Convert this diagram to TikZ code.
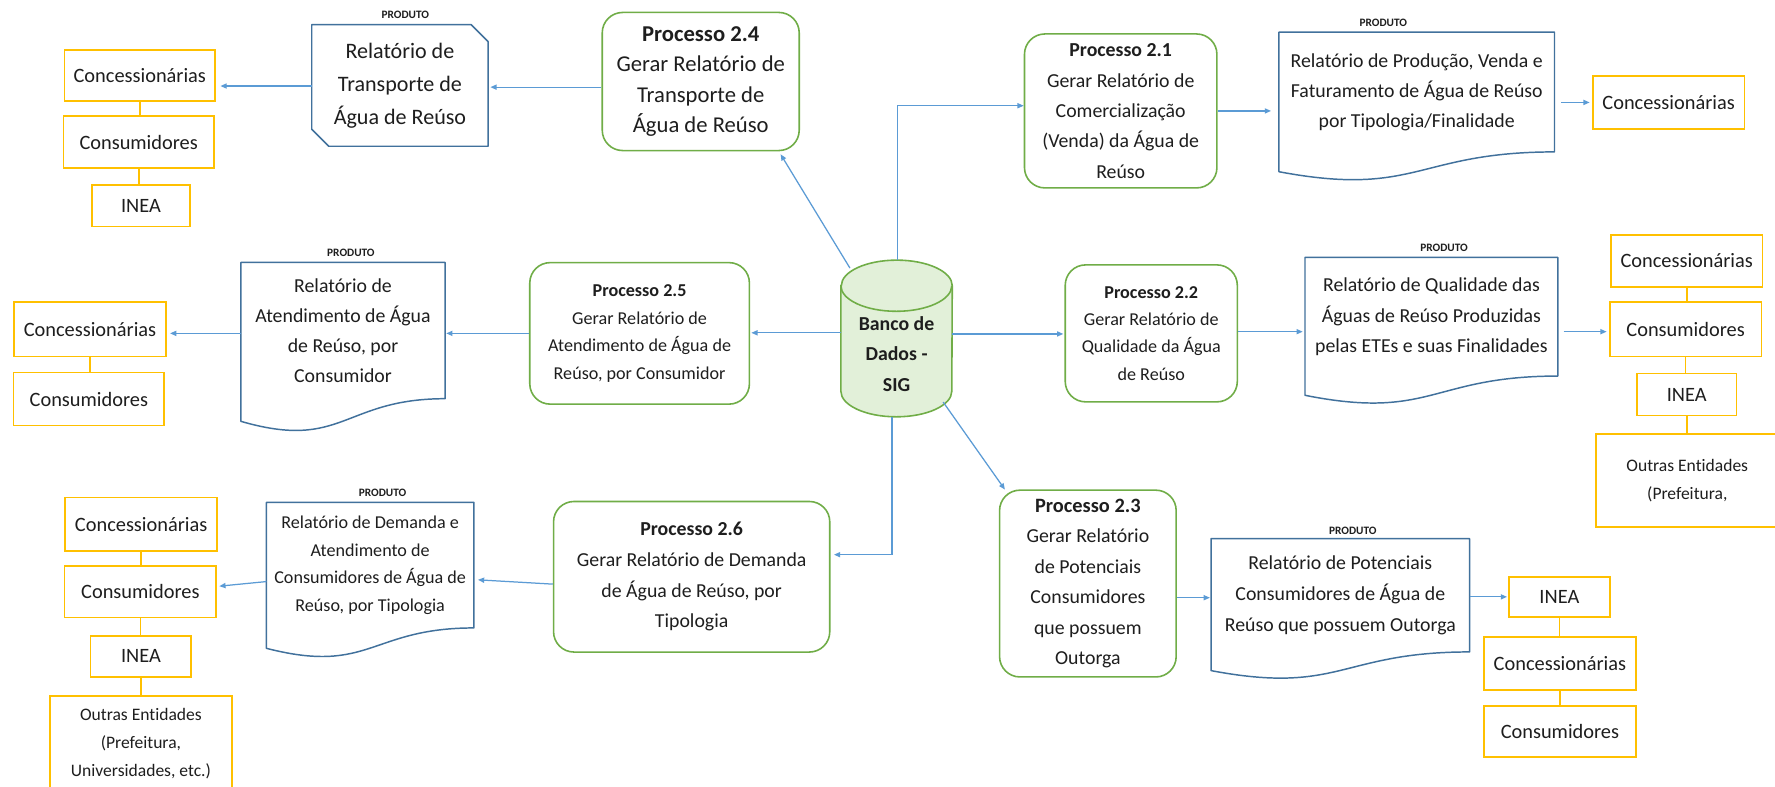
\documentclass[tikz,border=0pt]{standalone}
\usepackage{fontspec}
\setmainfont{Carlito}[Ligatures=NoCommon]
\usetikzlibrary{arrows.meta,calc}

\definecolor{procgreen}{HTML}{70AD47}
\definecolor{dbfill}{HTML}{E2F0D9}
\definecolor{docblue}{HTML}{41719C}
\definecolor{arrowblue}{HTML}{5B9BD5}
\definecolor{entyellow}{HTML}{FFC000}
\definecolor{ink}{HTML}{1E1E1E}

\newcommand\fsz[2]{\fontsize{#1}{#2}\selectfont}

% document symbol: wavy bottom edge, #1 node name, #2 drop of the left end
\newcommand\docoutline[2]{%
  \draw[docline] (#1.north west) -- (#1.north east) -- (#1.south east)
    .. controls (#1.south) and ([yshift=-2.31*#2pt]#1.south) ..
    ([yshift=-#2pt]#1.south west) -- cycle;}

\tikzset{
  every node/.style={text=ink},
  procbox/.style={draw=procgreen, line width=1.4pt, rounded corners=18pt,
    fill=white, inner sep=0pt, align=center},
  docnode/.style={inner sep=0pt, align=center},
  docline/.style={draw=docblue, line width=1.3pt, line join=round},
  entbox/.style={draw=entyellow, line width=1.5pt, fill=white, inner sep=0pt,
    align=center, font=\fsz{18}{22}},
  entlink/.style={draw=entyellow, line width=1.5pt},
  flow/.style={draw=arrowblue, line width=1.1pt,
    -{Triangle[length=5.5pt,width=4.5pt]}},
  prodtag/.style={font=\fsz{10}{12}\bfseries, inner sep=0pt},
}

\begin{document}
\begin{tikzpicture}[x=1pt, y=-1pt]
\useasboundingbox (0,0) rectangle (1568,695);
\fill[white] (0,0) rectangle (1568,695);

% ---------- processes ----------
\node[procbox, minimum width=174pt, minimum height=122pt, font=\fsz{20}{27}] (p24) at (619,72)
  {{\fsz{20}{27}\bfseries Processo 2.4}\\Gerar Relatório de\\Transporte de\\Água de Reúso};
\node[procbox, minimum width=170pt, minimum height=136pt, font=\fsz{17.5}{26.8}] (p21) at (990,98)
  {{\bfseries Processo 2.1}\\Gerar Relatório de\\Comercialização\\(Venda) da Água de\\Reúso};
\node[procbox, minimum width=194pt, minimum height=125pt, font=\fsz{16}{24.3}] (p25) at (565,294.5)
  {{\bfseries Processo 2.5}\\Gerar Relatório de\\Atendimento de Água de\\Reúso, por Consumidor};
\node[procbox, minimum width=152pt, minimum height=121pt, font=\fsz{16}{24}] (p22) at (1017,294.5)
  {{\bfseries Processo 2.2}\\Gerar Relatório de\\Qualidade da Água\\de Reúso};
\node[procbox, minimum width=244pt, minimum height=133pt, font=\fsz{17.5}{27}] (p26) at (611,509.5)
  {{\bfseries Processo 2.6}\\Gerar Relatório de Demanda\\de Água de Reúso, por\\Tipologia};
\node[procbox, minimum width=156pt, minimum height=165pt, font=\fsz{17.5}{27}] (p23) at (961,515.5)
  {{\fsz{18}{27}\bfseries Processo 2.3}\\Gerar Relatório\\de Potenciais\\Consumidores\\que possuem\\Outorga};

% ---------- database cylinder ----------
\node[minimum width=98pt, minimum height=138pt, inner sep=0pt] (db) at (792,299) {};
\path[fill=dbfill, draw=procgreen, line width=1.4pt]
  ([yshift=-22.6pt]db.north west) -- ([yshift=22.6pt]db.south west)
  arc[start angle=180, end angle=360, x radius=49pt, y radius=22.6pt]
  -- ([yshift=-22.6pt]db.north east)
  arc[start angle=0, end angle=180, x radius=49pt, y radius=22.6pt] -- cycle;
\draw[procgreen, line width=1.4pt] ([yshift=-22.6pt]db.north west)
  arc[start angle=180, end angle=360, x radius=49pt, y radius=22.6pt];
\node[font=\fsz{17.5}{27}\bfseries, align=center, inner sep=0pt] (dbtext) at (792,312.5)
  {Banco de\\Dados -\\SIG};

% ---------- products ----------
\node[docnode, minimum width=155.4pt, minimum height=107pt, font=\fsz{19.5}{29}] (pr4) at (353.3,75.5)
  {Relatório de\\Transporte de\\Água de Reúso};
\draw[docline] (pr4.north west) -- ([xshift=-15pt]pr4.north east) -- ([yshift=-15pt]pr4.north east)
  -- (pr4.south east) -- ([xshift=15pt]pr4.south west) -- ([yshift=15pt]pr4.south west) -- cycle;

\node[docnode, minimum width=243pt, minimum height=105.4pt, font=\fsz{17.5}{26.5}] (pr1) at (1251.5,81.3)
  {Relatório de Produção, Venda e\\Faturamento de Água de Reúso\\por Tipologia/Finalidade};
\docoutline{pr1}{17.5}

\node[docnode, minimum width=223pt, minimum height=104.4pt, font=\fsz{17.5}{27}] (pr2) at (1264.5,279.8)
  {Relatório de Qualidade das\\Águas de Reúso Produzidas\\pelas ETEs e suas Finalidades};
\docoutline{pr2}{17}

\node[docnode, minimum width=228pt, minimum height=99.7pt, font=\fsz{17.5}{27}] (pr3) at (1184,525.85)
  {Relatório de Potenciais\\Consumidores de Água de\\Reúso que possuem Outorga};
\docoutline{pr3}{16.5}

\node[docnode, minimum width=180pt, minimum height=120pt, font=\fsz{17.5}{26.5}] (pr5) at (303,292)
  {Relatório de\\Atendimento de Água\\de Reúso, por\\Consumidor};
\docoutline{pr5}{20}

\node[docnode, minimum width=183pt, minimum height=110.5pt, font=\fsz{16}{24.5}] (pr6) at (327,499.25)
  {Relatório de Demanda e\\Atendimento de\\Consumidores de Água de\\Reúso, por Tipologia};
\docoutline{pr6}{18}

\node[prodtag] (tag4) at (358,13) {PRODUTO};
\node[prodtag] (tag1) at (1222,20.6) {PRODUTO};
\node[prodtag] (tag5) at (310,223) {PRODUTO};
\node[prodtag] (tag2) at (1275.6,219) {PRODUTO};
\node[prodtag] (tag6) at (338,435.6) {PRODUTO};
\node[prodtag] (tag3) at (1195,469) {PRODUTO};

% ---------- recipients ----------
\node[entbox, minimum width=133pt, minimum height=45pt] (tlconc) at (123.5,66.5) {Concessionárias};
\node[entbox, minimum width=133pt, minimum height=46pt] (tlcons) at (122.5,125.6) {Consumidores};
\node[entbox, minimum width=87pt, minimum height=36.6pt] (tlinea) at (124.5,181.7) {INEA};

\node[entbox, minimum width=134pt, minimum height=48pt] (mlconc) at (79.5,291) {Concessionárias};
\node[entbox, minimum width=133pt, minimum height=47pt] (mlcons) at (78.5,352.5) {Consumidores};

\node[entbox, minimum width=134.5pt, minimum height=47pt] (blconc) at (124.7,463) {Concessionárias};
\node[entbox, minimum width=134pt, minimum height=45.6pt] (blcons) at (124,522.8) {Consumidores};
\node[entbox, minimum width=89pt, minimum height=36pt] (blinea) at (124.5,579.8) {INEA};
\node[entbox, minimum width=161pt, minimum height=84pt, font=\fsz{15.5}{25}] (blout) at (124.5,656.8)
  {Outras Entidades\\(Prefeitura,\\Universidades, etc.)};

\node[entbox, minimum width=134pt, minimum height=47pt] (trconc) at (1474,90.5) {Concessionárias};

\node[entbox, minimum width=134pt, minimum height=46pt] (rmconc) at (1490,230.6) {Concessionárias};
\node[entbox, minimum width=134pt, minimum height=48pt] (rmcons) at (1489,291) {Consumidores};
\node[entbox, minimum width=88pt, minimum height=37pt] (rminea) at (1490,348.5) {INEA};
\node[entbox, minimum width=161.8pt, minimum height=82pt, font=\fsz{15.5}{25}] (rmout) at (1490.5,424.4)
  {Outras Entidades\\(Prefeitura,};

\node[entbox, minimum width=89pt, minimum height=35.5pt] (brinea) at (1377.5,527.25) {INEA};
\node[entbox, minimum width=134pt, minimum height=47pt] (brconc) at (1378,586) {Concessionárias};
\node[entbox, minimum width=134pt, minimum height=45.4pt] (brcons) at (1378,646.3) {Consumidores};

% recipient chains
\draw[entlink] (tlconc.south) -- (tlconc.south |- tlcons.north);
\draw[entlink] (tlcons.south) -- (tlcons.south |- tlinea.north);
\draw[entlink] (mlconc.south) -- (mlconc.south |- mlcons.north);
\draw[entlink] (blconc.south) -- (blconc.south |- blcons.north);
\draw[entlink] (blcons.south) -- (blcons.south |- blinea.north);
\draw[entlink] (blinea.south) -- (blinea.south |- blout.north);
\draw[entlink] (rmconc.south) -- (rmconc.south |- rmcons.north);
\draw[entlink] (rmcons.south) -- (rmcons.south |- rminea.north);
\draw[entlink] (rminea.south) -- (rminea.south |- rmout.north);
\draw[entlink] (brinea.south) -- (brinea.south |- brconc.north);
\draw[entlink] (brconc.south) -- (brconc.south |- brcons.north);

% ---------- flows ----------
\draw[flow, shorten >=2pt] ([yshift=-5pt]p24.west) -- ([yshift=-5pt]p24.west -| pr4.east);
\draw[flow, shorten >=4pt] ([yshift=-0.5pt]pr4.west) -- ([yshift=-0.5pt]pr4.west -| tlconc.east);
\draw[flow, shorten >=3pt] ([xshift=8pt,yshift=-7pt]db.north west) -- ([xshift=69pt]p24.south);
\draw[flow] ([xshift=1pt]db.north) |- ([yshift=4.6pt]p21.west);
\draw[flow, shorten >=7pt] (p21.east) -- (p21.east -| pr1.west);
\draw[flow, shorten <=6pt, shorten >=2pt] (trconc.west -| pr1.east) -- (trconc.west);
\draw[flow, shorten >=1pt] ([yshift=5pt]db.west) -- ([yshift=5pt]db.west -| p25.east);
\draw[flow, shorten >=1pt] (p25.west) -- (p25.west -| pr5.east);
\draw[flow, shorten >=3pt] (p25.west -| pr5.west) -- (p25.west -| mlconc.east);
\draw[flow, shorten >=1pt] ([yshift=4pt]db.east) -- ([yshift=4pt]db.east -| p22.west);
\draw[flow, shorten >=2pt] ([yshift=1.5pt]p22.east) -- ([yshift=1.5pt]p22.east -| pr2.west);
\draw[flow, shorten <=5pt, shorten >=2pt] ([yshift=-2pt]rmcons.west -| pr2.east) -- ([yshift=-2pt]rmcons.west);
\draw[flow, shorten >=3pt] ([xshift=-4pt]db.south) |- ([yshift=19.5pt]p26.east);
\draw[flow, shorten >=3.5pt] ([yshift=-6.5pt]p26.west) -- ([yshift=-2.5pt]p26.west -| pr6.east);
\draw[flow, shorten >=2pt] ([yshift=-14.5pt]pr6.west) -- ([yshift=4.8pt]blcons.east);
\draw[flow, shorten >=1pt] ([xshift=-8pt,yshift=13pt]db.south east) -- ([xshift=6pt,yshift=-1pt]p23.north west);
\draw[flow, shorten >=1pt] ([yshift=-12.5pt]p23.east) -- ([yshift=-12.5pt]p23.east -| pr3.west);
\draw[flow, shorten >=1pt] (brinea.west -| pr3.east) -- (brinea.west);
\end{tikzpicture}
\end{document}
